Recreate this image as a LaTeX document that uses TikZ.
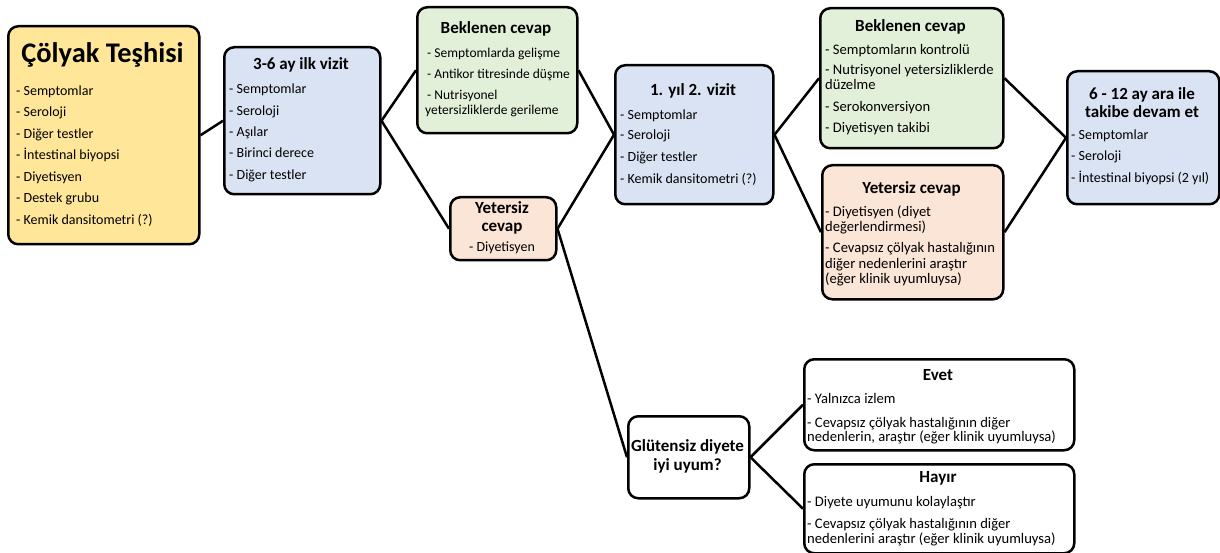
\documentclass[tikz,border=0pt]{standalone}
\usepackage{fontspec}
\setmainfont{Carlito}
\definecolor{sarifill}{HTML}{FFE699}
\definecolor{mavifill}{HTML}{DAE3F3}
\definecolor{yesilfill}{HTML}{E2F0D9}
\definecolor{somonfill}{HTML}{FBE5D6}
\tikzset{
  kutu/.style={draw, line width=2.5pt, rounded corners=10pt, anchor=north west, inner sep=0pt},
  baslik/.style={anchor=base, inner sep=0pt, font=\bfseries\fontsize{17}{20}\selectfont},
  madde/.style={anchor=base west, inner sep=0pt, font=\fontsize{14}{16}\selectfont},
  genis/.style={madde, font=\fontsize{14.6}{17}\selectfont},
  dar/.style={madde, font=\fontsize{13.5}{16}\selectfont},
  hat/.style={line width=2.5pt}
}
\begin{document}
\begin{tikzpicture}[x=1pt,y=-1pt]
\useasboundingbox (0,0) rectangle (1220,553);
% tani
\node[kutu, fill=sarifill, minimum width=191pt, minimum height=218pt] (teshis) at (7,25) {};
\node[baslik, font=\bfseries\fontsize{28.4}{31}\selectfont] (teshis-b) at (102.5,63) {Çölyak Teşhisi};
\node[madde] (teshis-1) at (16,95.3) {- Semptomlar};
\node[madde] (teshis-2) at (16,116.8) {- Seroloji};
\node[madde] (teshis-3) at (16,138.3) {- Diğer testler};
\node[madde] (teshis-4) at (16,159.8) {- İntestinal biyopsi};
\node[madde] (teshis-5) at (16,181.3) {- Diyetisyen};
\node[madde] (teshis-6) at (16,202.8) {- Destek grubu};
\node[madde] (teshis-7) at (16,224.3) {- Kemik dansitometri (?)};
% ilk vizit
\node[kutu, fill=mavifill, minimum width=156pt, minimum height=147pt] (ilk) at (223,46) {};
\node[baslik] (ilk-b) at (301,70) {3-6 ay ilk vizit};
\node[madde] (ilk-1) at (229,94) {- Semptomlar};
\node[madde] (ilk-2) at (229,115.3) {- Seroloji};
\node[madde] (ilk-3) at (229,136.7) {- Aşılar};
\node[madde] (ilk-4) at (229,158) {- Birinci derece};
\node[madde] (ilk-5) at (229,179.3) {- Diğer testler};
% beklenen cevap 1
\node[kutu, fill=yesilfill, minimum width=160pt, minimum height=126pt] (bek1) at (416,6) {};
\node[baslik] (bek1-b) at (496,33.3) {Beklenen cevap};
\node[dar] (bek1-1) at (427,57.3) {- Semptomlarda gelişme};
\node[dar] (bek1-2) at (427,79) {- Antikor titresinde düşme};
\node[dar] (bek1-3) at (427,100) {- Nutrisyonel};
\node[dar] (bek1-4) at (425,115) {yetersizliklerde gerileme};
% yetersiz cevap 1
\node[kutu, fill=somonfill, minimum width=106pt, minimum height=63pt] (yet1) at (449,196) {};
\node[baslik] (yet1-b) at (502,213.3) {Yetersiz};
\node[baslik] (yet1-c) at (502,231.7) {cevap};
\node[madde, anchor=base] (yet1-1) at (502,251.7) {- Diyetisyen};
% ikinci vizit
\node[kutu, fill=mavifill, minimum width=158pt, minimum height=139pt] (iki) at (614,64) {};
\node[baslik] (iki-b) at (693,96) {1. yıl 2. vizit};
\node[madde] (iki-1) at (620,119.3) {- Semptomlar};
\node[madde] (iki-2) at (620,140) {- Seroloji};
\node[madde] (iki-3) at (620,161.7) {- Diğer testler};
\node[madde] (iki-4) at (620,183.3) {- Kemik dansitometri (?)};
% beklenen cevap 2
\node[kutu, fill=yesilfill, minimum width=183pt, minimum height=140pt] (bek2) at (819,7) {};
\node[baslik] (bek2-b) at (910.5,31.7) {Beklenen cevap};
\node[genis] (bek2-1) at (825,54.3) {- Semptomların kontrolü};
\node[genis] (bek2-2) at (825,75) {- Nutrisyonel yetersizliklerde};
\node[genis] (bek2-3) at (825,90) {düzelme};
\node[genis] (bek2-4) at (825,111.7) {- Serokonversiyon};
\node[genis] (bek2-5) at (825,132.7) {- Diyetisyen takibi};
% yetersiz cevap 2
\node[kutu, fill=somonfill, minimum width=181pt, minimum height=134pt] (yet2) at (821,164) {};
\node[baslik] (yet2-b) at (911.5,194) {Yetersiz cevap};
\node[genis] (yet2-1) at (825,216.7) {- Diyetisyen (diyet};
\node[genis] (yet2-2) at (825,231.7) {değerlendirmesi)};
\node[genis] (yet2-3) at (825,252.7) {- Cevapsız çölyak hastalığının};
\node[genis] (yet2-4) at (825,268.3) {diğer nedenlerini araştır};
\node[genis] (yet2-5) at (825,283.3) {(eğer klinik uyumluysa)};
% takip
\node[kutu, fill=mavifill, minimum width=152pt, minimum height=133pt] (takip) at (1066,70) {};
\node[baslik] (takip-b) at (1142,100) {6 - 12 ay ara ile};
\node[baslik] (takip-c) at (1142,118) {takibe devam et};
\node[madde] (takip-1) at (1071,140) {- Semptomlar};
\node[madde] (takip-2) at (1071,160.7) {- Seroloji};
\node[madde] (takip-3) at (1071,182.7) {- İntestinal biyopsi (2 yıl)};
% diyet uyumu
\node[kutu, fill=white, minimum width=121pt, minimum height=82pt] (uyum) at (627,415) {};
\node[baslik] (uyum-b) at (687.5,451.7) {Glütensiz diyete};
\node[baslik] (uyum-c) at (687.5,470) {iyi uyum?};
\node[kutu, fill=white, minimum width=270pt, minimum height=91pt] (evet) at (803,358) {};
\node[baslik] (evet-b) at (938,380) {Evet};
\node[genis] (evet-1) at (807,403.3) {- Yalnızca izlem};
\node[genis] (evet-2) at (807,427.3) {- Cevapsız çölyak hastalığının diğer};
\node[genis] (evet-3) at (807,441.7) {nedenlerin, araştır (eğer klinik uyumluysa)};
\node[kutu, fill=white, minimum width=270pt, minimum height=89pt] (hayir) at (803,463) {};
\node[baslik] (hayir-b) at (938,482.7) {Hayır};
\node[genis] (hayir-1) at (807,506.7) {- Diyete uyumunu kolaylaştır};
\node[genis] (hayir-2) at (807,528.3) {- Cevapsız çölyak hastalığının diğer};
\node[genis] (hayir-3) at (807,543.3) {nedenlerini araştır (eğer klinik uyumluysa)};
% baglantilar
\draw[hat] (teshis.east) -- (ilk.west);
\draw[hat] (ilk.east) -- (bek1.west);
\draw[hat] (ilk.east) -- (yet1.west);
\draw[hat] (bek1.east) -- (iki.west);
\draw[hat] (yet1.east) -- (iki.west);
\draw[hat] (yet1.east) -- (uyum.west);
\draw[hat] (iki.east) -- (bek2.west);
\draw[hat] (iki.east) -- (yet2.west);
\draw[hat] (bek2.east) -- (takip.west);
\draw[hat] (yet2.east) -- (takip.west);
\draw[hat] (uyum.east) -- (evet.west);
\draw[hat] (uyum.east) -- (hayir.west);
\end{tikzpicture}
\end{document}
